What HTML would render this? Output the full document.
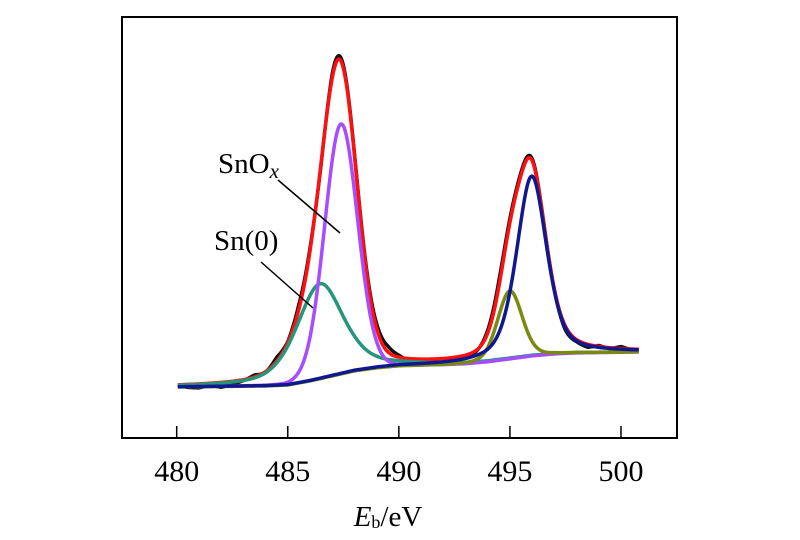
<!DOCTYPE html>
<html><head><meta charset="utf-8"><style>
html,body{margin:0;padding:0;background:#fff;}
svg{display:block;font-family:"Liberation Serif",serif;}
</style></head><body>
<svg id="chart" width="800" height="540" viewBox="0 0 800 540">
<rect x="122" y="17" width="555" height="421" fill="none" stroke="#000" stroke-width="2"/>
<g id="ticks"></g>
<g id="curves"></g>
<text x="218" y="173" font-size="29">SnO<tspan font-style="italic" font-size="21" dy="5">x</tspan></text>
<line x1="278" y1="180" x2="340" y2="233" stroke="#000" stroke-width="1.5"/>
<text x="214" y="250" font-size="29">Sn(0)</text>
<line x1="261" y1="262" x2="313" y2="308" stroke="#000" stroke-width="1.5"/>
<text x="388" y="526" font-size="29" text-anchor="middle"><tspan font-style="italic">E</tspan><tspan font-size="18" dy="2">b</tspan><tspan dy="-2">/eV</tspan></text>
</svg>
<script>
// data
const xTicks = [480, 485, 490, 495, 500];
const baseX = [480, 484, 485, 486, 487, 488, 489, 490, 492, 493, 494, 495, 496, 497, 498, 500.8];
const baseV = [51, 52, 53, 57, 62, 67, 70, 72, 73, 74, 76, 79, 82, 84, 85, 86];
const peakNames = ['sn0-3d52', 'snox-3d52', 'sn0-3d32', 'snox-3d32'];
const peakCenters = [486.45, 487.4, 495.0, 495.98];
const peakHeights = [95, 250, 68, 180];
const peakFwhm = [2.5, 1.75, 1.3, 1.6];
const peakMix = [0.5, 0.05, 0.2, 0.45];
const peakColors = ['#24967a', '#a64dff', '#7a8a10', '#101890'];
const residX = [480,480.5,481,481.5,482,482.5,483,483.5,484,484.5,485,485.5,486,486.5,487,487.5,488,488.5,489,489.5,490,490.5,491,491.5,492,492.5,493,493.5,494,494.5,495,495.5,496,496.5,497,497.5,498,498.5,499,499.5,500,500.5,500.8];
const residV = [0,-3,-4,-2,-5,-3,-1,2,-1,4,1,5,3,-2,4,3,2,3,5,6,2,-3,-4,-2,-4,-3,-2,-1,3,6,4,3,2,1,-1,-4,-2,-3,1,-1,2,-1,0];

const X0 = 480, X1 = 500, PX0 = 176.7, PX1 = 621;
function sx(e){ return PX0 + (e - X0) * (PX1 - PX0) / (X1 - X0); }
function sy(v){ return 438 - v; }
function base(e){
  if (e <= baseX[0]) return baseV[0];
  for (let i = 1; i < baseX.length; i++) {
    if (e <= baseX[i]) {
      const t = (e - baseX[i-1]) / (baseX[i] - baseX[i-1]);
      return baseV[i-1] + t * (baseV[i] - baseV[i-1]);
    }
  }
  return baseV[baseV.length - 1];
}
function peak(i, e){
  const d = (e - peakCenters[i]) / peakFwhm[i];
  const g = Math.exp(-4 * Math.LN2 * d * d);
  const l = 1 / (1 + 4 * d * d);
  return peakHeights[i] * ((1 - peakMix[i]) * g + peakMix[i] * l);
}
function resid(e){
  for (let i = 1; i < residX.length; i++) if (e <= residX[i]) {
    const t = (e - residX[i-1]) / (residX[i] - residX[i-1]);
    return residV[i-1] + t * (residV[i] - residV[i-1]);
  }
  return 0;
}
const NS = 'http://www.w3.org/2000/svg';
const g = document.getElementById('curves');
const tg = document.getElementById('ticks');
xTicks.forEach(t => {
  const ln = document.createElementNS(NS, 'line');
  ln.setAttribute('x1', sx(t)); ln.setAttribute('x2', sx(t));
  ln.setAttribute('y1', 426); ln.setAttribute('y2', 438);
  ln.setAttribute('stroke', '#000'); ln.setAttribute('stroke-width', '1.5');
  
  
  tg.appendChild(ln);
  const tx = document.createElementNS(NS, 'text');
  tx.setAttribute('x', sx(t)); tx.setAttribute('y', 481);
  tx.setAttribute('text-anchor', 'middle'); tx.setAttribute('font-size', '30');
  tx.textContent = t;
  
  
  tg.appendChild(tx);
});
const E0 = 480.05, E1 = 500.8, N = 400;
function pathFor(fn){
  let d = '';
  for (let k = 0; k <= N; k++) {
    const e = E0 + (E1 - E0) * k / N;
    d += (k ? 'L' : 'M') + sx(e).toFixed(2) + ' ' + sy(fn(e)).toFixed(2);
  }
  return d;
}
function addPath(d, color, w, name){
  const p = document.createElementNS(NS, 'path');
  p.setAttribute('d', d); p.setAttribute('fill', 'none');
  p.setAttribute('stroke', color); p.setAttribute('stroke-width', w);
  p.setAttribute('stroke-linejoin', 'round');
  
  
  g.appendChild(p);
}
function total(e){ let s = base(e); for (let i = 0; i < peakCenters.length; i++) s += peak(i, e); return s; }
addPath(pathFor(e => total(e) + resid(e)), '#111', 3.5, 'measured-spectrum');
addPath(pathFor(total), '#ff1010', 3.5, 'fit-envelope');
[0, 1, 2, 3].forEach(i => addPath(pathFor(e => base(e) + peak(i, e)), peakColors[i], 3.5, peakNames[i] + '-component'));
</script>
</body></html>
